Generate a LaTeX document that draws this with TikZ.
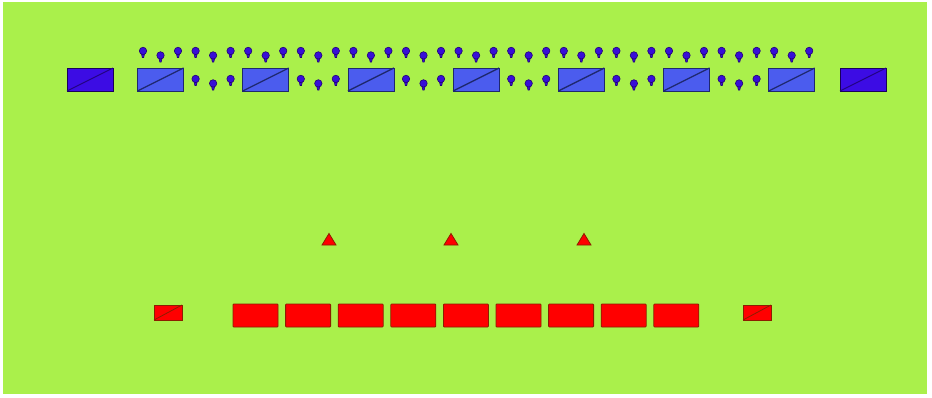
\documentclass[tikz,border=0pt]{standalone}
\definecolor{field}{RGB}{170,240,75}
\definecolor{pinfill}{RGB}{55,15,215}
\definecolor{pinline}{RGB}{35,0,120}
\definecolor{lbfill}{RGB}{75,92,238}
\definecolor{lbline}{RGB}{30,40,110}
\definecolor{dbfill}{RGB}{60,12,228}
\definecolor{dbline}{RGB}{25,0,90}
\definecolor{redfill}{RGB}{255,0,0}
\definecolor{redline}{RGB}{140,30,0}
\tikzset{
  pinmark/.pic={
    \filldraw[fill=pinfill,draw=pinline,line width=0.6pt]
      (-1.6,-3.8) -- (-0.7,0) -- (0.7,0) -- (1.6,-3.8) -- cycle;
    \filldraw[fill=pinfill,draw=pinline,line width=0.6pt]
      (0,-6.6) circle[radius=3.7];
  },
  lightbox/.style={fill=lbfill,draw=lbline,line width=0.8pt},
  darkbox/.style={fill=dbfill,draw=dbline,line width=0.8pt},
  redbox/.style={fill=redfill,draw=redline,line width=0.8pt},
  lightdiag/.style={draw=lbline,line width=1.3pt},
  darkdiag/.style={draw=dbline!70!dbfill,line width=1pt},
  reddiag/.style={draw=redline,line width=0.8pt},
}
\begin{document}
\begin{tikzpicture}[x=1pt,y=-1pt]
  \useasboundingbox (0,0) rectangle (932,397);
  \fill[white] (0,0) rectangle (932,397);
  \fill[field] (3,2) rectangle (927,394);
  % dark blue end boxes
  \foreach \cx in {90,863} {
    \draw[darkbox] (\cx-23,68) rectangle (\cx+23,91);
    \draw[darkdiag] (\cx-23,91) -- (\cx+23,68);
  }
  % light blue boxes
  \foreach \k in {0,...,6} {
    \pgfmathsetmacro{\cx}{160.5+\k*105.2}
    \draw[lightbox] (\cx-23,68) rectangle (\cx+23,91);
    \draw[lightdiag] (\cx-23,91) -- (\cx+23,68);
  }
  % top row of pins
  \foreach \g in {0,...,12} {
    \pgfmathsetmacro{\gx}{143+\g*52.6}
    \pic at (\gx,57.5) {pinmark};
    \pic at (\gx+17.5,62) {pinmark};
    \pic at (\gx+35,57.5) {pinmark};
  }
  % bottom row of pins (between boxes)
  \foreach \g in {1,3,5,7,9,11} {
    \pgfmathsetmacro{\gx}{143+\g*52.6}
    \pic at (\gx,85.5) {pinmark};
    \pic at (\gx+17.5,90) {pinmark};
    \pic at (\gx+35,85.5) {pinmark};
  }
  % red triangles
  \foreach \tx in {329,451,584} {
    \filldraw[fill=redfill,draw=redline,line width=0.8pt]
      (\tx-7,245) -- (\tx+7,245) -- (\tx,233.5) -- cycle;
  }
  % small red end boxes
  \foreach \cx in {168,757} {
    \draw[redbox] (\cx-14,305) rectangle (\cx+14,320);
    \draw[reddiag] (\cx-14,320) -- (\cx+14,305);
  }
  % big red boxes
  \foreach \k in {0,...,8} {
    \pgfmathsetmacro{\cx}{255.5+\k*52.6}
    \draw[redbox,rounded corners=0.8pt] (\cx-22.5,304) rectangle (\cx+22.5,327);
  }
\end{tikzpicture}
\end{document}
